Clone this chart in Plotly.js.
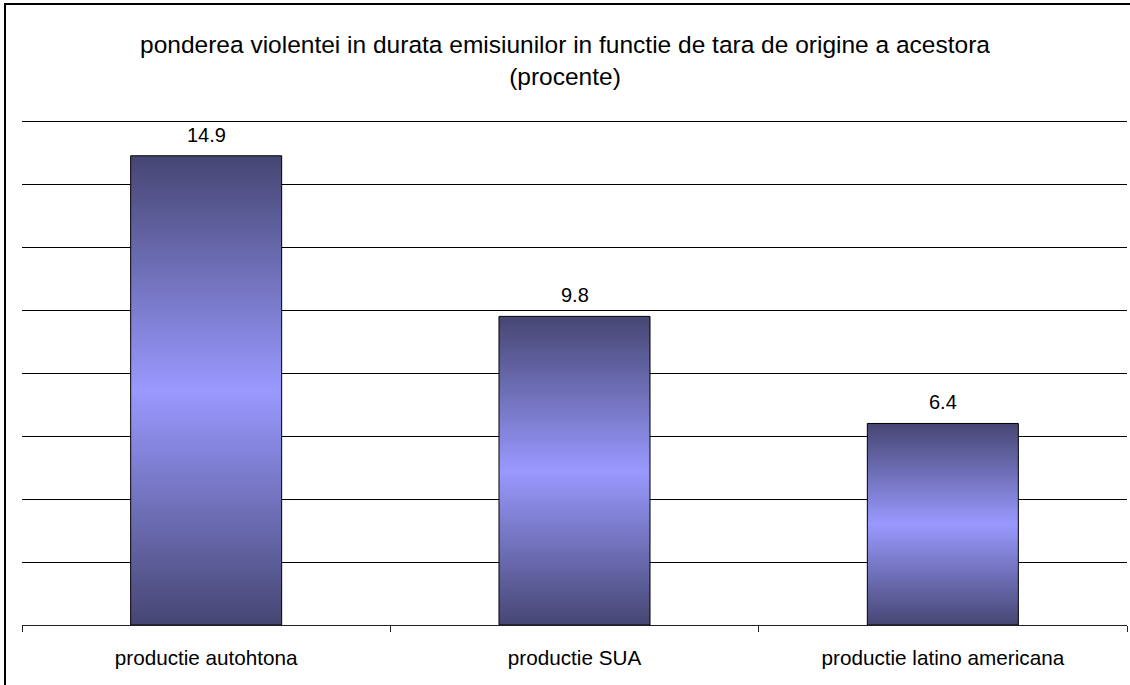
<!DOCTYPE html>
<html>
<head>
<meta charset="utf-8">
<script src="https://cdn.plot.ly/plotly-3.0.1.min.js"></script>
<style>
  html, body { margin: 0; padding: 0; background: #fff; }
  #wrap { position: relative; width: 1130px; height: 685px; overflow: hidden; }
  #chart { width: 1130px; height: 685px; }
  #frame { position: absolute; left: 4px; top: 3px; width: 1200px; height: 800px;
           border-left: 2px solid #000; border-top: 2px solid #000; pointer-events: none; }
</style>
</head>
<body>
<div id="wrap">
  <div id="chart"></div>
  <div id="frame"></div>
</div>
<script>
// ---- data ----
const categories = ["productie autohtona", "productie SUA", "productie latino americana"];
const values = [14.9, 9.8, 6.4];
const valueLabels = ["14.9", "9.8", "6.4"];
const chartTitle = "ponderea violentei in durata emisiunilor in functie de tara de origine a acestora<br>(procente)";

const FONT = "Liberation Sans, Arial, sans-serif";

const trace = {
  type: "bar",
  x: categories,
  y: values,
  width: 0.41,
  marker: { color: "#8080e0", line: { color: "#000", width: 1 } },
  hoverinfo: "skip"
};

const annotations = categories.map((c, i) => ({
  x: c, y: values[i], xref: "x", yref: "y",
  text: valueLabels[i], showarrow: false,
  yanchor: "bottom", yshift: 8,
  font: { family: FONT, size: 20, color: "#000" }
}));

const layout = {
  width: 1130, height: 685,
  margin: { l: 22, r: 3, t: 118, b: 60 },
  paper_bgcolor: "#fff", plot_bgcolor: "#fff",
  showlegend: false,
  title: {
    text: chartTitle,
    font: { family: FONT, size: 24.5, color: "#000" },
    x: 0.5, xref: "container", xanchor: "center",
    y: 1 - 53 / 685, yref: "container", yanchor: "middle"
  },
  xaxis: {
    type: "category",
    showline: true, linecolor: "#222", linewidth: 1,
    ticks: "outside", tickson: "boundaries", ticklen: 6, tickcolor: "#222", tickwidth: 1,
    ticklabelstandoff: 14,
    showgrid: false, zeroline: false,
    tickfont: { family: FONT, size: 20.7, color: "#000" },
    fixedrange: true
  },
  yaxis: {
    range: [0, 16.1], dtick: 2, tick0: 0,
    showgrid: true, gridcolor: "#000", gridwidth: 1,
    showline: false, zeroline: false, showticklabels: false, ticks: "",
    fixedrange: true
  },
  annotations: annotations,
  bargap: 0.59
};

Plotly.newPlot("chart", [trace], layout, { displayModeBar: false, staticPlot: true }).then(gd => {
  const NS = "http://www.w3.org/2000/svg";
  const svg = gd.querySelector(".main-svg");
  let defs = svg.querySelector("defs");
  if (!defs) { defs = document.createElementNS(NS, "defs"); svg.insertBefore(defs, svg.firstChild); }
  const g = document.createElementNS(NS, "linearGradient");
  g.setAttribute("id", "barGrad");
  g.setAttribute("x1", "0"); g.setAttribute("y1", "0");
  g.setAttribute("x2", "0"); g.setAttribute("y2", "1");
  [["0", "#464673"], ["0.5", "#9999ff"], ["1", "#464673"]].forEach(([o, c]) => {
    const s = document.createElementNS(NS, "stop");
    s.setAttribute("offset", o); s.setAttribute("stop-color", c);
    g.appendChild(s);
  });
  defs.appendChild(g);
  gd.querySelectorAll(".trace.bars .point path").forEach(p => {
    p.style.fill = "url(#barGrad)";
    p.style.fillOpacity = "1";
  });
});
</script>
</body>
</html>
